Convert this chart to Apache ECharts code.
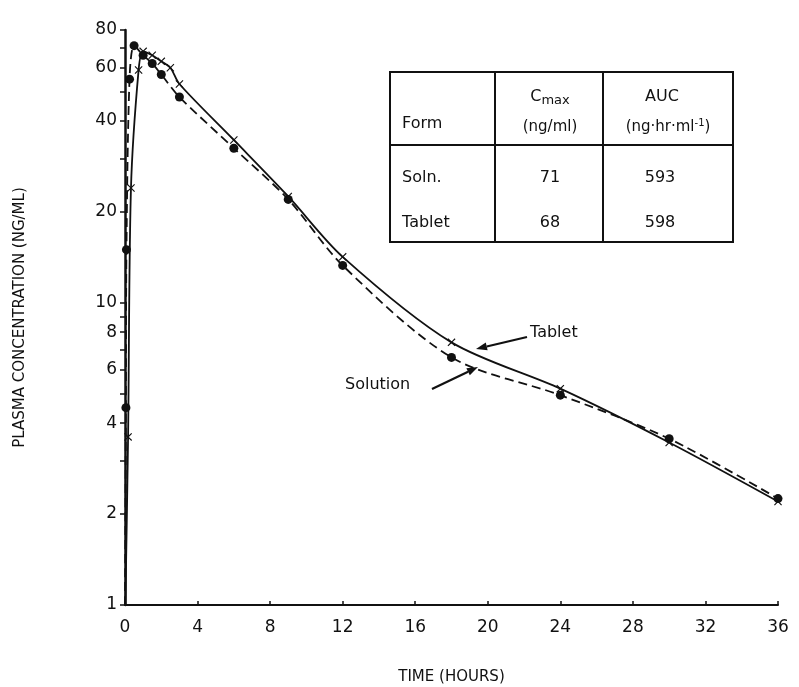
<!DOCTYPE html>
<html>
<head>
<meta charset="utf-8">
<script src="https://cdn.jsdelivr.net/npm/echarts@6/dist/echarts.min.js"></script>
<style>html,body{margin:0;padding:0;background:#fff;}#c{width:799px;height:687px;}</style>
</head>
<body>
<div id="c"></div>
<script>
// ---- data ----
const solnTimes = [0, 0.05, 0.08, 0.25, 0.5, 1, 1.5, 2, 3, 6, 9, 12, 18, 24, 30, 36];
const solnConc  = [1, 4.5, 15, 55, 71, 66, 62, 57, 48, 32.5, 22, 13.3, 6.6, 4.95, 3.55, 2.25];
const tabTimes  = [0.02, 0.17, 0.33, 0.75, 1, 1.5, 2, 2.5, 3, 6, 9, 12, 18, 24, 30, 36];
const tabConc   = [1, 3.6, 24, 59, 68, 66, 63, 60, 53, 34.6, 22.5, 14.2, 7.4, 5.2, 3.45, 2.2];
const xTicks = [0, 4, 8, 12, 16, 20, 24, 28, 32, 36];
const yLabels = [1, 2, 4, 6, 8, 10, 20, 40, 60, 80];
const yTickVals = [1, 2, 3, 4, 5, 6, 7, 8, 9, 10, 20, 30, 40, 50, 60, 70, 80];
const tableHeader = ['Form', 'Cmax (ng/ml)', 'AUC (ng·hr·ml⁻¹)'];
const tableRows = [['Soln.', '71', '593'], ['Tablet', '68', '598']];

const FONT = 'DejaVu Sans';
const X_MARK = 'path://M0,1 L1,0 L5,4 L9,0 L10,1 L6,5 L10,9 L9,10 L5,6 L1,10 L0,9 L4,5 Z';

function pairs(t, v, firstNone) {
  return t.map((x, i) => {
    const d = { value: [x, v[i]] };
    if (firstNone && i === 0) d.symbol = 'none';
    return d;
  });
}

function arrow(x1, y1, x2, y2) {
  const dx = x2 - x1, dy = y2 - y1, L = Math.hypot(dx, dy);
  const ux = dx / L, uy = dy / L, hl = 11, hw = 4;
  const bx = x2 - ux * hl, by = y2 - uy * hl;
  return [
    { type: 'line', shape: { x1: x1, y1: y1, x2: bx, y2: by }, style: { stroke: '#111', lineWidth: 2.2 } },
    { type: 'polygon', shape: { points: [[x2, y2], [bx - uy * hw, by + ux * hw], [bx + uy * hw, by - ux * hw]] }, style: { fill: '#111' } }
  ];
}

const tx = 390, ty = 72, tw = 343, th = 170;
const c1 = 495, c2 = 603, hy = 145;
const txt = (x, y, text, align, extra) => ({
  type: 'text', x: x, y: y,
  style: Object.assign({ text: text, fill: '#111', font: '16px "' + FONT + '"', align: align || 'left', verticalAlign: 'middle' }, extra || {})
});

const graphics = [
  { type: 'rect', shape: { x: tx, y: ty, width: tw, height: th }, style: { fill: '#fff', stroke: '#111', lineWidth: 2 } },
  { type: 'line', shape: { x1: tx, y1: hy, x2: tx + tw, y2: hy }, style: { stroke: '#111', lineWidth: 2 } },
  { type: 'line', shape: { x1: c1, y1: ty, x2: c1, y2: ty + th }, style: { stroke: '#111', lineWidth: 2 } },
  { type: 'line', shape: { x1: c2, y1: ty, x2: c2, y2: ty + th }, style: { stroke: '#111', lineWidth: 2 } },
  txt(402, 124, tableHeader[0]),
  txt(550, 97, '{a|C}{s|max}', 'center', { rich: { a: { font: '16px "' + FONT + '"', fill: '#111' }, s: { font: '13px "' + FONT + '"', fill: '#111', padding: [8, 0, 0, 0] } } }),
  txt(550, 127, '(ng/ml)', 'center', { font: '15px "' + FONT + '"' }),
  txt(662, 97, 'AUC', 'center'),
  txt(668, 127, '{a|(ng·hr·ml}{s|-1}{a|)}', 'center', { rich: { a: { font: '15px "' + FONT + '"', fill: '#111' }, s: { font: '10px "' + FONT + '"', fill: '#111', padding: [0, 0, 8, 0] } } }),
  txt(402, 178, tableRows[0][0]),
  txt(550, 178, tableRows[0][1], 'center'),
  txt(660, 178, tableRows[0][2], 'center'),
  txt(402, 223, tableRows[1][0]),
  txt(550, 223, tableRows[1][1], 'center'),
  txt(660, 223, tableRows[1][2], 'center'),
  txt(530, 333, 'Tablet'),
  txt(345, 385, 'Solution')
].concat(arrow(527, 337, 476, 349)).concat(arrow(432, 389, 478, 367));

const chart = echarts.init(document.getElementById('c'), null, { renderer: 'canvas' });
chart.setOption({
  backgroundColor: '#fff',
  animation: false,
  grid: { left: 125, right: 21, top: 30, bottom: 82, containLabel: false, outerBoundsMode: 'none' },
  xAxis: {
    type: 'value', min: 0, max: 36, interval: 4,
    name: 'TIME (HOURS)', nameLocation: 'middle', nameGap: 65,
    nameTextStyle: { fontFamily: FONT, fontSize: 15, color: '#111' },
    axisLine: { lineStyle: { color: '#111', width: 2 } },
    axisTick: { show: true, inside: true, length: 4, lineStyle: { color: '#111', width: 1.5 }, customValues: xTicks },
    axisLabel: { fontFamily: FONT, fontSize: 17, color: '#111', margin: 14, customValues: xTicks },
    splitLine: { show: false }
  },
  yAxis: {
    type: 'log', logBase: 10, min: 1, max: 80,
    name: 'PLASMA CONCENTRATION (NG/ML)', nameLocation: 'middle', nameGap: 97, nameRotate: 90,
    nameTextStyle: { fontFamily: FONT, fontSize: 15, color: '#111' },
    axisLine: { show: true, lineStyle: { color: '#111', width: 2.5 } },
    axisTick: { show: true, length: 5, lineStyle: { color: '#111', width: 1.5 }, customValues: yTickVals },
    axisLabel: { fontFamily: FONT, fontSize: 17, color: '#111', margin: 8, customValues: yLabels, formatter: v => String(Math.round(v)) },
    splitLine: { show: false },
    minorTick: { show: false }
  },
  series: [
    {
      name: 'Tablet', type: 'line', data: pairs(tabTimes, tabConc, true),
      smooth: 0.3,
      symbol: X_MARK, symbolSize: 8,
      itemStyle: { color: '#111' },
      lineStyle: { color: '#111', width: 1.8, type: 'solid' },
      z: 3
    },
    {
      name: 'Solution', type: 'line', data: pairs(solnTimes, solnConc, true),
      smooth: 0.3,
      symbol: 'circle', symbolSize: 9,
      itemStyle: { color: '#111' },
      lineStyle: { color: '#111', width: 1.8, type: [9, 5] },
      z: 2
    }
  ],
  graphic: graphics
});
</script>
</body>
</html>
